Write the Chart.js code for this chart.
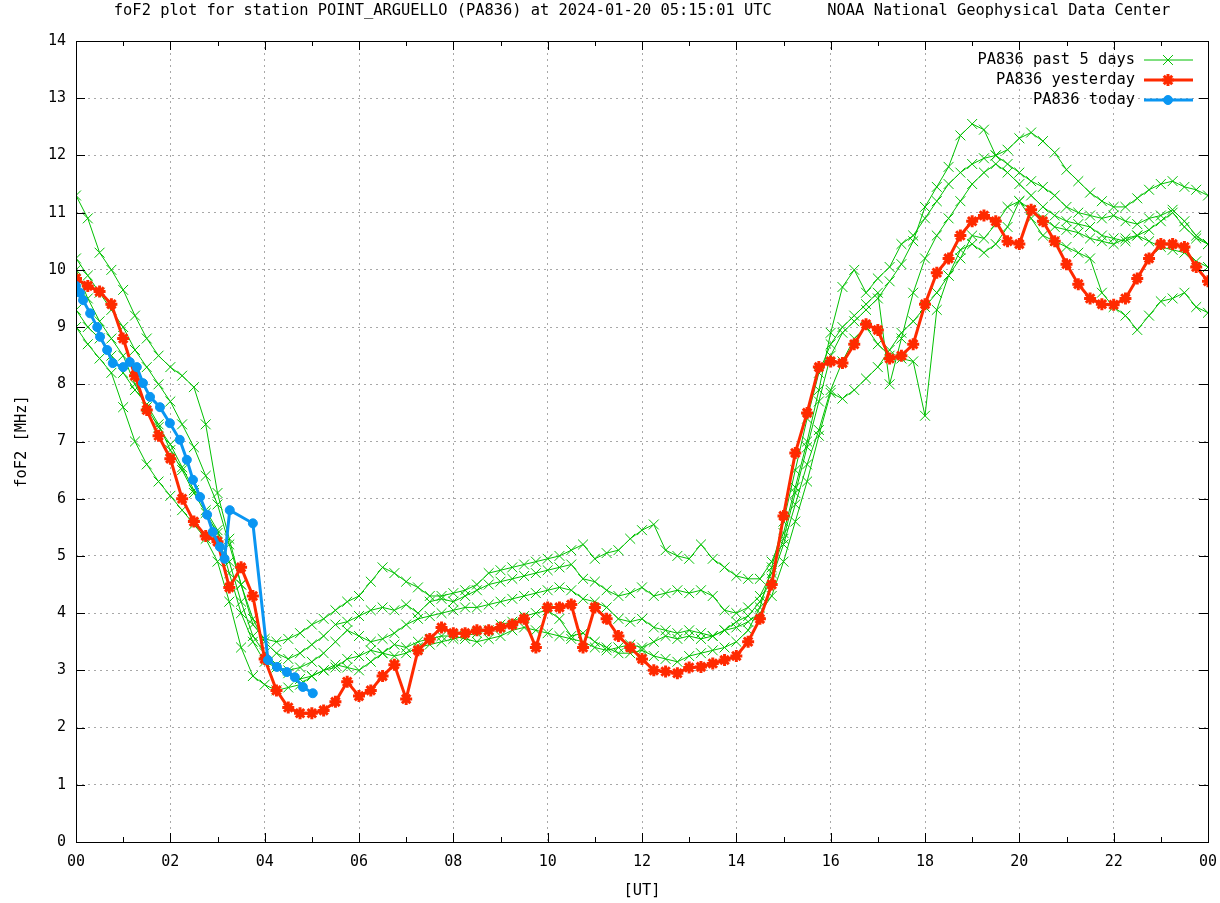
<!DOCTYPE html>
<html>
<head>
<meta charset="utf-8">
<title>foF2 PA836</title>
<script src="https://cdn.jsdelivr.net/npm/chart.js@4.4.1/dist/chart.umd.min.js"></script>
<style>
  html, body { margin: 0; padding: 0; background: #fff; }
  #wrap { width: 1220px; height: 903px; }
</style>
</head>
<body>
<div id="wrap"><canvas id="fof2Chart" width="1220" height="903"></canvas></div>
<script>
// sample times (UT hours) for the daily soundings
const quarterHours = [
  0, 0.25, 0.5, 0.75, 1, 1.25, 1.5, 1.75, 2, 2.25, 2.5, 2.75,
  3, 3.25, 3.5, 3.75, 4, 4.25, 4.5, 4.75, 5, 5.25, 5.5, 5.75,
  6, 6.25, 6.5, 6.75, 7, 7.25, 7.5, 7.75, 8, 8.25, 8.5, 8.75,
  9, 9.25, 9.5, 9.75, 10, 10.25, 10.5, 10.75, 11, 11.25, 11.5, 11.75,
  12, 12.25, 12.5, 12.75, 13, 13.25, 13.5, 13.75, 14, 14.25, 14.5, 14.75,
  15, 15.25, 15.5, 15.75, 16, 16.25, 16.5, 16.75, 17, 17.25, 17.5, 17.75,
  18, 18.25, 18.5, 18.75, 19, 19.25, 19.5, 19.75, 20, 20.25, 20.5, 20.75,
  21, 21.25, 21.5, 21.75, 22, 22.25, 22.5, 22.75, 23, 23.25, 23.5, 23.75, 24
];

// past 5 days, foF2 in MHz
const pastDay1 = [
  11.3, 10.9, 10.3, 10.0, 9.65, 9.2, 8.8, 8.5, 8.3, 8.15, 7.95, 7.3,
  6.1, 5.3, 4.5, 3.8, 3.55, 3.5, 3.55, 3.65, 3.8, 3.9, 4.05, 4.2,
  4.3, 4.55, 4.8, 4.7, 4.55, 4.45, 4.3, 4.3, 4.35, 4.4, 4.5, 4.7,
  4.75, 4.8, 4.85, 4.9, 4.95, 5.0, 5.1, 5.2, 4.95, 5.05, 5.1, 5.3,
  5.45, 5.55, 5.1, 5.0, 4.95, 5.2, 4.95, 4.8, 4.65, 4.6, 4.6, 4.9,
  5.4, 6.2, 7.0, 7.9, 8.9, 9.7, 10.0, 9.6, 9.85, 10.05, 10.45, 10.6,
  10.9, 11.2, 11.5, 11.7, 11.85, 11.95, 12.0, 12.1, 12.3, 12.4, 12.25, 12.05,
  11.75, 11.55, 11.35, 11.2, 11.1, 11.1, 11.25, 11.4, 11.5, 11.55, 11.45, 11.4, 11.3
];
const pastDay2 = [
  10.2, 9.9, 9.6, 9.3, 9.0, 8.6, 8.3, 8.0, 7.7, 7.3, 6.9, 6.4,
  5.9, 5.2, 4.5, 3.9, 3.5, 3.3, 3.2, 3.3, 3.45, 3.6, 3.8, 3.85,
  3.95, 4.05, 4.1, 4.05, 4.15, 4.0, 4.2, 4.25, 4.2, 4.3, 4.4, 4.5,
  4.55, 4.6, 4.65, 4.7, 4.75, 4.8, 4.85, 4.6, 4.55, 4.4, 4.3, 4.35,
  4.45, 4.3, 4.35, 4.4, 4.35, 4.4, 4.3, 4.05, 4.0, 4.1, 4.3, 4.7,
  5.3, 6.1, 6.9, 7.7, 8.5, 8.9, 9.1, 9.3, 9.5, 9.8, 10.1, 10.5,
  11.1, 11.45, 11.8, 12.35, 12.55, 12.45, 12.0, 11.85, 11.7, 11.55, 11.45, 11.3,
  11.1, 11.0, 10.95, 10.9, 10.95, 10.85, 10.8, 10.9, 10.95, 11.05, 10.85, 10.6, 10.45
];
const pastDay3 = [
  9.3, 9.0, 8.8, 8.5, 8.2, 7.9, 7.65, 7.3, 6.85, 6.5, 6.1, 5.75,
  5.4, 4.7, 4.0, 3.5, 3.15, 3.05, 3.0, 3.05, 3.15, 3.3, 3.5, 3.7,
  3.6, 3.5, 3.55, 3.65, 3.8, 3.9, 3.95, 4.0, 4.05, 4.1, 4.1, 4.15,
  4.2, 4.25, 4.3, 4.35, 4.4, 4.45, 4.4, 4.25, 4.2, 4.1, 3.9, 3.85,
  3.9, 3.75, 3.7, 3.65, 3.7, 3.65, 3.6, 3.7, 3.85, 3.95, 4.2, 4.6,
  5.2, 5.9, 6.6, 7.2, 7.9, 8.4, 8.8, 9.0, 8.7, 8.5, 8.45, 8.4,
  7.45, 9.3, 9.9, 10.2, 10.6, 10.55, 10.8, 11.1, 11.2, 11.05, 10.9, 10.75,
  10.7, 10.65, 10.55, 10.5, 10.45, 10.55, 10.6, 10.7, 10.85, 11.0, 10.75, 10.55, 10.45
];
const pastDay4 = [
  9.0, 8.7, 8.45, 8.2, 7.6, 7.0, 6.6, 6.3, 6.05, 5.8, 5.55, 5.3,
  4.9, 4.2, 3.4, 2.9, 2.75, 2.65, 2.7, 2.75, 2.9, 3.0, 3.1, 3.05,
  3.0, 3.15, 3.3, 3.45, 3.4, 3.5, 3.55, 3.6, 3.6, 3.55, 3.5, 3.55,
  3.6, 3.7, 3.75, 3.7, 3.65, 3.6, 3.55, 3.5, 3.4, 3.35, 3.4, 3.45,
  3.4, 3.5, 3.6, 3.55, 3.6, 3.55, 3.6, 3.7, 3.75, 3.85, 4.0, 4.3,
  4.9, 5.6, 6.3, 7.1, 7.85, 7.75, 7.9, 8.1, 8.3, 8.6, 8.9, 9.1,
  9.35, 9.6, 9.9, 10.35, 10.45, 10.3, 10.45, 10.75, 11.2, 10.9, 10.6, 10.5,
  10.4, 10.3, 10.2, 9.6, 9.35, 9.2, 8.95, 9.2, 9.45, 9.5, 9.6, 9.35, 9.25
];
const pastDay5 = [
  10.0, 9.5, 9.1, 8.8, 8.5, 8.0, 7.6, 7.25, 6.95, 6.55, 6.15, 5.8,
  5.45, 4.9, 4.2, 3.6, 3.3, 3.1, 2.95, 2.85, 2.9, 3.0, 3.05, 3.2,
  3.25, 3.35, 3.3, 3.25, 3.3, 3.4, 3.45, 3.5, 3.55, 3.6, 3.65, 3.7,
  3.8, 3.85, 3.95, 4.0, 4.05, 3.9, 3.6, 3.65, 3.5, 3.4, 3.3, 3.3,
  3.35, 3.25, 3.2, 3.15, 3.25, 3.3, 3.35, 3.4, 3.5, 3.7, 4.1, 4.8,
  5.6, 6.5, 7.4, 8.2, 8.7, 9.0, 9.2, 9.4, 9.6, 8.0, 8.8, 9.6,
  10.2, 10.6, 10.9, 11.2, 11.5, 11.7, 11.85, 11.7, 11.5, 11.3, 11.1, 10.95,
  10.85, 10.8, 10.75, 10.6, 10.55, 10.5, 10.6, 10.5, 10.4, 10.35, 10.3, 10.15, 10.05
];

// yesterday
const yesterdayValues = [
  9.85, 9.72, 9.62, 9.4, 8.8, 8.15, 7.55, 7.1, 6.7, 6.0, 5.6, 5.35,
  5.25, 4.45, 4.8, 4.3, 3.2, 2.65, 2.35, 2.25, 2.25, 2.3, 2.45, 2.8,
  2.55, 2.65, 2.9, 3.1, 2.5, 3.35, 3.55, 3.75, 3.65, 3.65, 3.7, 3.7,
  3.75, 3.8, 3.9, 3.4, 4.1, 4.1, 4.15, 3.4, 4.1, 3.9, 3.6, 3.4,
  3.2, 3.0, 2.98, 2.95, 3.05, 3.06, 3.12, 3.18, 3.25, 3.5, 3.9, 4.5,
  5.7, 6.8, 7.5, 8.3, 8.4, 8.37, 8.7, 9.05, 8.95, 8.45, 8.5, 8.7,
  9.4, 9.95, 10.2, 10.6, 10.85, 10.95, 10.85, 10.5, 10.45, 11.05, 10.85, 10.5,
  10.1, 9.75, 9.5, 9.4, 9.39, 9.5, 9.85, 10.2, 10.45, 10.45, 10.4, 10.05, 9.8
];

// today, up to 05:00 UT
const todayTimes = [
  0, 0.085, 0.15, 0.3, 0.45, 0.51, 0.66, 0.78, 1.0, 1.14, 1.29, 1.42,
  1.57, 1.78, 1.99, 2.2, 2.35, 2.48, 2.63, 2.78, 2.9, 3.05, 3.15, 3.26,
  3.75, 4.07, 4.26, 4.47, 4.64, 4.81, 5.02
];
const todayValues = [
  9.72, 9.6, 9.47, 9.24, 9.0, 8.83, 8.6, 8.37, 8.3, 8.39, 8.3, 8.02,
  7.78, 7.6, 7.32, 7.03, 6.68, 6.33, 6.03, 5.72, 5.42, 5.16, 4.95, 5.8,
  5.57, 3.18, 3.06, 2.97, 2.88, 2.71, 2.6
];

const yTicks = [0, 1, 2, 3, 4, 5, 6, 7, 8, 9, 10, 11, 12, 13, 14];
const xTickHours = [0, 2, 4, 6, 8, 10, 12, 14, 16, 18, 20, 22, 24];

const titleText = 'foF2 plot for station POINT_ARGUELLO (PA836) at 2024-01-20 05:15:01 UTC      NOAA National Geophysical Data Center';
const GREEN = '#00c000';
const RED = '#ff2a00';
const BLUE = '#0a96f2';
const MONO = '"DejaVu Sans Mono", "Liberation Mono", monospace';

function pairs(xs, ys) {
  return ys.map((v, i) => ({ x: xs[i], y: v }));
}

function pastDataset(values, label) {
  return {
    label: label,
    data: pairs(quarterHours, values),
    borderColor: GREEN,
    backgroundColor: GREEN,
    borderWidth: 1,
    pointStyle: 'crossRot',
    pointRadius: 7,
    pointBorderWidth: 1,
    tension: 0
  };
}

const datasets = [
  {
    label: 'PA836 today',
    data: pairs(todayTimes, todayValues),
    borderColor: BLUE,
    backgroundColor: BLUE,
    borderWidth: 3,
    pointStyle: 'circle',
    pointRadius: 4.5,
    pointBorderWidth: 1,
    tension: 0
  },
  {
    label: 'PA836 yesterday',
    data: pairs(quarterHours, yesterdayValues),
    borderColor: RED,
    backgroundColor: RED,
    borderWidth: 3,
    pointStyle: 'star',
    pointRadius: 6,
    pointBorderWidth: 3,
    tension: 0
  },
  pastDataset(pastDay1, 'PA836 past 5 days'),
  pastDataset(pastDay2, ''),
  pastDataset(pastDay3, ''),
  pastDataset(pastDay4, ''),
  pastDataset(pastDay5, '')
];

// legend rows, top to bottom
const legendRows = [
  { label: 'PA836 past 5 days', ds: datasets[2] },
  { label: 'PA836 yesterday', ds: datasets[1] },
  { label: 'PA836 today', ds: datasets[0] }
];

// gnuplot-style frame: border, inward ticks, texts and key
const framePlugin = {
  id: 'frame',
  afterDraw(chart) {
    const { ctx, chartArea: a, scales: { x, y } } = chart;
    ctx.save();
    ctx.strokeStyle = '#000';
    ctx.lineWidth = 1;
    ctx.setLineDash([]);

    ctx.beginPath();
    yTicks.forEach(v => {
      const py = Math.round(y.getPixelForValue(v)) + 0.5;
      ctx.moveTo(a.left, py); ctx.lineTo(a.left + 9, py);
      ctx.moveTo(a.right, py); ctx.lineTo(a.right - 9, py);
    });
    for (let h = 0; h <= 24; h++) {
      const len = h % 2 ? 5 : 9;
      const px = Math.round(x.getPixelForValue(h)) + 0.5;
      ctx.moveTo(px, a.bottom); ctx.lineTo(px, a.bottom - len);
      ctx.moveTo(px, a.top); ctx.lineTo(px, a.top + len);
    }
    ctx.stroke();
    ctx.strokeRect(Math.round(a.left) + 0.5, Math.round(a.top) + 0.5,
      Math.round(a.right - a.left), Math.round(a.bottom - a.top));

    ctx.fillStyle = '#000';
    ctx.font = '15.4px ' + MONO;
    ctx.textBaseline = 'middle';
    ctx.textAlign = 'center';
    ctx.fillText(titleText, (a.left + a.right) / 2, 11);
    ctx.fillText('[UT]', (a.left + a.right) / 2, 891);

    ctx.save();
    ctx.translate(22, (a.top + a.bottom) / 2);
    ctx.rotate(-Math.PI / 2);
    ctx.fillText('foF2 [MHz]', 0, 0);
    ctx.restore();

    // key
    ctx.textAlign = 'right';
    legendRows.forEach((row, i) => {
      const ly = 60 + i * 20;
      const ds = row.ds;
      ctx.fillStyle = '#000';
      ctx.fillText(row.label, 1135, ly);
      ctx.strokeStyle = ds.borderColor;
      ctx.fillStyle = ds.backgroundColor;
      ctx.lineWidth = ds.borderWidth;
      ctx.beginPath();
      ctx.moveTo(1144, ly); ctx.lineTo(1193, ly);
      ctx.stroke();
      ctx.lineWidth = ds.pointBorderWidth;
      Chart.helpers.drawPoint(ctx, {
        pointStyle: ds.pointStyle,
        radius: ds.pointRadius,
        rotation: 0,
        borderWidth: ds.pointBorderWidth
      }, 1168, ly);
    });
    ctx.restore();
  }
};

const ctx = document.getElementById('fof2Chart').getContext('2d');
new Chart(ctx, {
  type: 'line',
  data: { datasets: datasets },
  plugins: [framePlugin],
  options: {
    responsive: false,
    animation: false,
    devicePixelRatio: 1,
    layout: { padding: { left: 0, right: 12, top: 41, bottom: 0 } },
    plugins: {
      legend: { display: false },
      tooltip: { enabled: false },
      title: { display: false }
    },
    scales: {
      x: {
        type: 'linear',
        min: 0,
        max: 24,
        afterBuildTicks: scale => {
          scale.ticks = xTickHours.map(h => ({ value: h }));
        },
        ticks: {
          autoSkip: false,
          maxRotation: 0,
          padding: 11,
          color: '#000',
          font: { family: MONO, size: 15 },
          callback: v => String(v % 24).padStart(2, '0')
        },
        grid: { color: '#a8a8a8', lineWidth: 1, drawTicks: false },
        border: { display: false, dash: [2, 4] },
        afterFit: scale => {
          scale.height = 61;
          scale.paddingLeft = 0;
          scale.paddingRight = 0;
        }
      },
      y: {
        type: 'linear',
        min: 0,
        max: 14,
        afterBuildTicks: scale => {
          scale.ticks = yTicks.map(v => ({ value: v }));
        },
        ticks: {
          padding: 10,
          color: '#000',
          font: { family: MONO, size: 15 }
        },
        grid: { color: '#a8a8a8', lineWidth: 1, drawTicks: false },
        border: { display: false, dash: [2, 4] },
        afterFit: scale => {
          scale.width = 76;
          scale.paddingTop = 0;
          scale.paddingBottom = 0;
        }
      }
    }
  }
});
</script>
</body>
</html>
